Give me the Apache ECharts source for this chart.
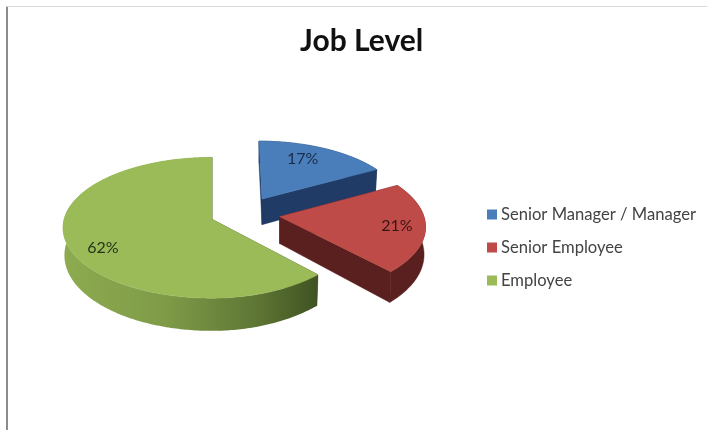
<!DOCTYPE html>
<html><head><meta charset="utf-8">
<style>html,body{margin:0;padding:0;background:#fff}#c{width:707px;height:430px}</style>
<script src="https://cdn.jsdelivr.net/npm/echarts@6/dist/echarts.min.js"></script>
</head><body><div id="c"></div>
<script>
const titleText = 'Job Level';
const categories = ['Senior Manager / Manager', 'Senior Employee', 'Employee'];
const percents = [17, 21, 62];

const topColors = ['#4a7ebb', '#be4b48', '#9bbb59'];
const cutColors = ['#1f3b66', '#5a1f1f', '#3f5322'];
const labelColors = ['#1b2c4a', '#3a1414', '#26331a'];
const explode = [[50, -21], [67.6, -2.6], [0, 0]];
const radii = [145, 145, 148];
const frontSpread = [0.06, 0.12, 0.06];
const labelNudge = [[-10, 1], [1, 0], [5, 7.5]];
const O = { x: 212, y: 219.3 }, K = 69.4, P = 0.12, DEPTH = 27;

const total = percents.reduce((a, b) => a + b, 0);
function startAngle(i) { let s = 0; for (let j = 0; j < i; j++) s += percents[j]; return s / total * 2 * Math.PI; }
function endAngle(i) { return startAngle(i) + percents[i] / total * 2 * Math.PI; }

function pt(i, r, a, low) {
  const lu = r * Math.sin(a), lv = -r * Math.cos(a);
  const v = explode[i][1] / K + lv;
  const f = 1 / (1 - P * v);
  const fx = (v < 0 || lu < 0) ? f : 1 / (1 - frontSpread[i] * v);
  const d = low ? DEPTH * Math.pow(f, 1.5) : 0;
  const x = O.x + explode[i][0] * (1 + 0.06 * lv) + radii[i] * lu * fx - (low ? 1.5 * lu : 0);
  return [x, O.y + K * v * f + d];
}
function arc(i, low) {
  const a0 = startAngle(i), a1 = endAngle(i), n = Math.ceil((a1 - a0) / 0.015), out = [];
  for (let k = 0; k <= n; k++) out.push(pt(i, 1, a0 + (a1 - a0) * k / n, low));
  return out;
}
function poly(points, fill, stroke) {
  return { type: 'polygon', silent: true, shape: { points: points },
    style: { fill: fill, stroke: stroke || fill, lineWidth: 0.5 } };
}
function sliceRenderer(i) {
  return function () {
    const a0 = startAngle(i), a1 = endAngle(i);
    const top = arc(i, false), low = arc(i, true);
    const apexT = pt(i, 0, 0, false), apexB = pt(i, 0, 0, true);
    const children = [];
    [a0, a1].forEach(a => {
      children.push(poly([apexT, pt(i, 1, a, false), pt(i, 1, a, true), apexB], cutColors[i]));
    });
    const wallFill = i === 2
      ? new echarts.graphic.LinearGradient(0, 0, 1, 0, [
          { offset: 0, color: '#8dab50' }, { offset: 0.4, color: '#7f9b48' },
          { offset: 0.75, color: '#5f7735' }, { offset: 1, color: '#3f5322' }])
      : cutColors[i];
    children.push(poly(top.concat(low.slice().reverse()), wallFill, i === 2 ? 'transparent' : cutColors[i]));
    children.push(poly([apexT].concat(top), topColors[i]));
    const mid = (a0 + a1) / 2, lp = pt(i, 0.8, mid, false);
    children.push({ type: 'text', silent: true, style: {
      x: lp[0] + labelNudge[i][0], y: lp[1] + labelNudge[i][1],
      text: percents[i] + '%', fill: labelColors[i], font: '16px Lato',
      align: 'center', verticalAlign: 'middle' } });
    return { type: 'group', children: children };
  };
}
const chart = echarts.init(document.getElementById('c'), null, { renderer: 'canvas' });
chart.setOption({
  animation: false,
  backgroundColor: '#ffffff',
  title: { text: titleText, left: 300, top: 26, padding: 0,
    textStyle: { fontFamily: 'Lato', fontWeight: 'bold', fontSize: 30, color: '#111111' } },
  legend: { orient: 'vertical', left: 487, top: 206, padding: 0, itemWidth: 10, itemHeight: 10, itemGap: 16,
    icon: 'rect', itemStyle: { borderWidth: 0 }, selectedMode: false,
    data: categories,
    textStyle: { fontFamily: 'Lato', fontSize: 16.6, color: '#444444', padding: [0, 0, 0, -1] } },
  graphic: [
    { type: 'rect', silent: true, shape: { x: 6, y: 6, width: 2, height: 424 }, style: { fill: '#8c8c8c' } },
    { type: 'rect', silent: true, shape: { x: 6, y: 6, width: 701, height: 1 }, style: { fill: '#d9d9d9' } }
  ],
  series: categories.map((name, i) => ({
    type: 'custom', name: name, coordinateSystem: 'none',
    itemStyle: { color: topColors[i] }, silent: true,
    data: [[percents[i]]], renderItem: sliceRenderer(i)
  }))
});
</script></body></html>
